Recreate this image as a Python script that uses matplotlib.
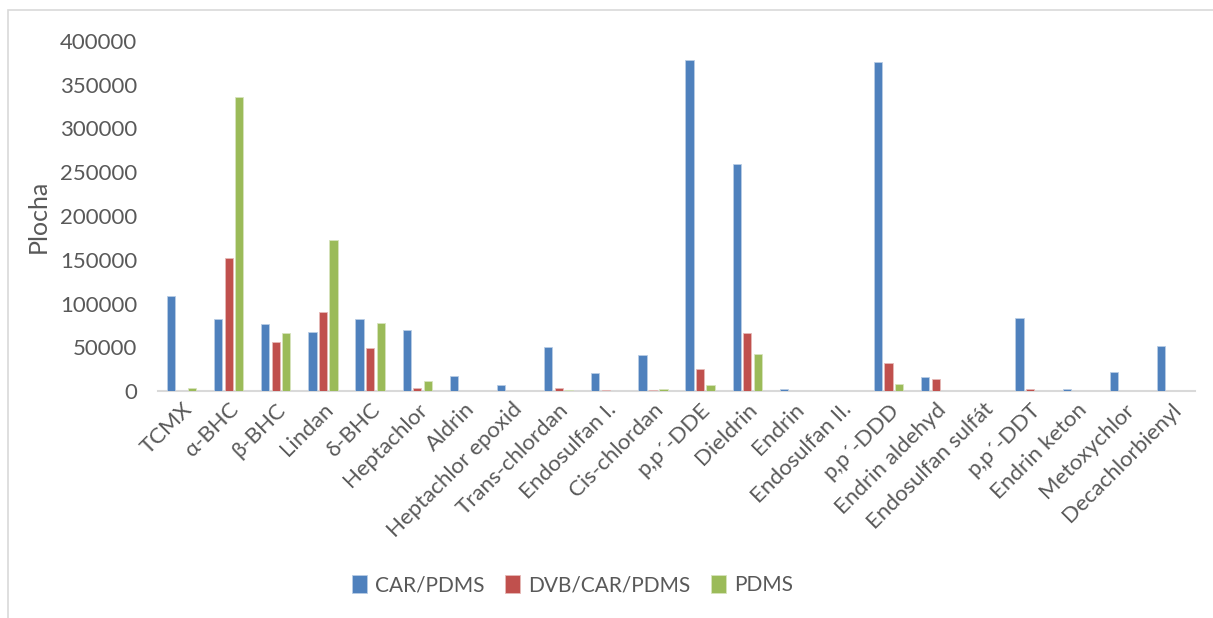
import numpy as np
import matplotlib
matplotlib.use("Agg")
import matplotlib.pyplot as plt
from matplotlib.patches import Rectangle

plt.rcParams['font.family'] = ['Lato', 'DejaVu Sans']

# názvy pesticidů a plochy píků pro jednotlivá vlákna
latky = ['TCMX', 'α-BHC', 'β-BHC', 'Lindan', 'δ-BHC', 'Heptachlor', 'Aldrin',
         'Heptachlor epoxid', 'Trans-chlordan', 'Endosulfan I.', 'Cis-chlordan',
         'p,p´-DDE', 'Dieldrin', 'Endrin', 'Endosulfan II.', 'p,p´-DDD',
         'Endrin aldehyd', 'Endosulfan sulfát', 'p,p´-DDT', 'Endrin keton',
         'Metoxychlor', 'Decachlorbienyl']
car_pdms = [108600, 82300, 76600, 67000, 82000, 69700, 16800, 6900, 50300, 20600,
            41500, 378700, 259000, 2000, 300, 375700, 16300, 300, 83100, 2000,
            21400, 51100]
dvb_car_pdms = [0, 152400, 55600, 90000, 49500, 3000, 300, 500, 3000, 700,
                800, 24800, 66300, 0, 300, 32000, 13700, 0, 2000, 0,
                0, 500]
pdms = [3400, 335600, 66300, 172600, 77400, 11000, 300, 500, 1000, 500,
        2000, 6500, 42300, 0, 300, 8000, 0, 0, 300, 0,
        0, 0]
serie = ['CAR/PDMS', 'DVB/CAR/PDMS', 'PDMS']
barvy = ['#4F81BD', '#C0504D', '#9BBB59']
okraje = ['#B9CDE5', '#E6B9B8', '#D7E4BD']

text_c = '#595959'

fig = plt.figure(figsize=(12.13, 6.18), dpi=100)
ax = fig.add_axes([158 / 1213, 1 - 391 / 618, 1037 / 1213, 350 / 618])

x = np.arange(len(latky))
sirka = 0.175
krok = 0.223
for i, (hodnoty, nazev) in enumerate(zip([car_pdms, dvb_car_pdms, pdms], serie)):
    ax.bar(x + (i - 1) * krok, hodnoty, width=sirka, color=barvy[i],
           edgecolor=okraje[i], linewidth=0.6, label=nazev, zorder=3)

ax.set_xlim(-0.5, len(latky) - 0.5)
ax.set_ylim(0, 400000)
ax.set_yticks(np.arange(0, 400001, 50000))
ax.set_yticklabels([str(v) for v in range(0, 400001, 50000)])
ax.set_xticks(x)
ax.set_xticklabels(latky, rotation=45, ha='right', rotation_mode='anchor')

for s in ['top', 'right', 'left']:
    ax.spines[s].set_visible(False)
ax.spines['bottom'].set_color('#D9D9D9')
ax.spines['bottom'].set_linewidth(1.5)

ax.tick_params(axis='y', length=0, pad=15, labelsize=16, labelcolor=text_c)
ax.tick_params(axis='x', length=0, pad=6, labelsize=16, labelcolor=text_c)

ax.set_ylabel('Plocha', fontsize=18, color=text_c)
ax.yaxis.set_label_coords(-0.104, 0.5)

fig.legend(loc='center', bbox_to_anchor=(0.472, 0.053), ncol=3, frameon=False,
           fontsize=15, labelcolor=text_c, handlelength=0.7, handleheight=0.9,
           handletextpad=0.4, columnspacing=1.0)

# rámeček grafu
fig.patches.append(Rectangle((8 / 1213, -0.1), 1.2, 1 - 10 / 618 + 0.1,
                             transform=fig.transFigure, fill=False,
                             edgecolor='#D9D9D9', linewidth=1.2))

fig.savefig('out.png', dpi=100)
